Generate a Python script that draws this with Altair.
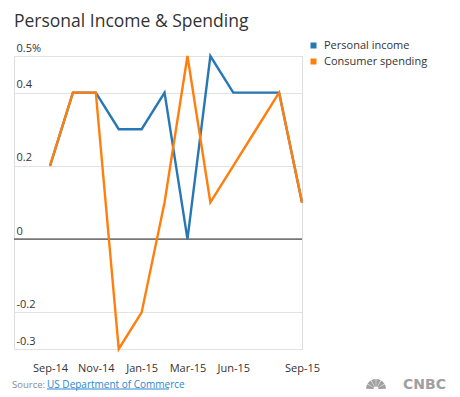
import altair as alt
import pandas as pd

months = ["Sep-14", "Oct-14", "Nov-14", "Dec-14", "Jan-15", "Feb-15", "Mar-15",
          "Apr-15", "Jun-15", "Jul-15", "Aug-15", "Sep-15"]
personal_income = [0.2, 0.4, 0.4, 0.3, 0.3, 0.4, 0.0, 0.5, 0.4, 0.4, 0.4, 0.1]
consumer_spending = [0.2, 0.4, 0.4, -0.3, -0.2, 0.1, 0.5, 0.1, 0.2, 0.3, 0.4, 0.1]
series_names = ["Personal income", "Consumer spending"]
series_colors = ["#2777b4", "#ff7f0e"]
x_tick_labels = ["Sep-14", "Nov-14", "Jan-15", "Mar-15", "Jun-15", "Sep-15"]
y_ticks = [-0.3, -0.2, 0, 0.2, 0.4, 0.5]

rows = []
for name, vals in zip(series_names, [personal_income, consumer_spending]):
    for m, v in zip(months, vals):
        rows.append({"month": m, "value": v, "series": name})
df = pd.DataFrame(rows)

FONT = "Open Sans"
W, H = 288, 293

base = alt.Chart(df)

lines = base.mark_line(strokeWidth=2.4, strokeJoin="miter").encode(
    x=alt.X("month:O", sort=months,
            scale=alt.Scale(type="point", padding=0.786, align=1),
            axis=alt.Axis(values=x_tick_labels, title=None, labelAngle=0, domain=False,
                          ticks=False, tickSize=0, grid=False, labelPadding=13,
                          labelBaseline="top", labelFontSize=11, labelFont=FONT,
                          labelColor="#333333")),
    y=alt.Y("value:Q", scale=alt.Scale(domain=[-0.3, 0.5], nice=False, zero=False),
            axis=alt.Axis(values=y_ticks, title=None, domain=False, ticks=False, tickSize=0,
                          grid=True, gridColor="#e2e2e2", gridWidth=1.2,
                          labelAlign="left", labelPadding=-2, labelBaseline="alphabetic",
                          labelOffset=-5, labelFontSize=11, labelFont=FONT,
                          labelColor="#333333",
                          labelExpr="datum.value == 0.5 ? '0.5%' : '' + datum.value")),
    color=alt.Color("series:N", sort=series_names,
                    scale=alt.Scale(domain=series_names, range=series_colors),
                    legend=alt.Legend(title=None, orient="none", legendX=294, legendY=-16,
                                      symbolType="square", symbolSize=9,
                                      symbolStrokeWidth=3, labelFontSize=11,
                                      labelFont=FONT, labelColor="#333333",
                                      labelOffset=5, rowPadding=1, padding=0)),
    order=alt.Order("series_order:Q"),
).transform_calculate(series_order="datum.series == 'Personal income' ? 0 : 1")

zero_rule = alt.Chart(pd.DataFrame({"z": [0]})).mark_rule(color="#777777", strokeWidth=1.6).encode(
    y=alt.Y("z:Q")
)

one = pd.DataFrame([{"k": 1}])
title_txt = alt.Chart(one).mark_text(align="left", baseline="alphabetic", font=FONT,
                                     fontSize=17.5, color="#333333").encode(
    x=alt.value(0), y=alt.value(-29.3), text=alt.value("Personal Income & Spending"))
source_lbl = alt.Chart(one).mark_text(align="left", baseline="middle", font=FONT,
                                      fontSize=9.5, color="#8a8a8a").encode(
    x=alt.value(-2), y=alt.value(329), text=alt.value("Source:"))
source_link = alt.Chart(one).mark_text(align="left", baseline="middle", font=FONT,
                                       fontSize=10, color="#2a86d1").encode(
    x=alt.value(33), y=alt.value(329), text=alt.value("US Department of Commerce"))
underline = alt.Chart(one).mark_rule(color="#2a86d1", strokeWidth=1).encode(
    x=alt.value(33), x2=alt.value(155), y=alt.value(333))
cnbc = alt.Chart(one).mark_text(align="right", baseline="middle", font="DejaVu Sans",
                                fontWeight="bold", fontSize=14, color="#a0a0a0").encode(
    x=alt.value(432), y=alt.value(328.5), text=alt.value("CNBC"))

feathers = []
for a0, a1 in [(272, 298), (302, 328), (332, 358), (2, 28), (32, 58), (62, 88)]:
    feathers.append(alt.Chart(one).mark_arc(color="#a0a0a0").encode(
        x=alt.value(362), y=alt.value(333),
        theta=alt.value(a0 * 3.14159 / 180), theta2=alt.value(a1 * 3.14159 / 180),
        radius=alt.value(10), radius2=alt.value(2.5)))

chart = alt.layer(zero_rule, lines, title_txt, source_lbl, source_link, underline, cnbc,
                  *feathers).properties(
    width=W, height=H,
    autosize=alt.AutoSizeParams(type="none"),
    padding={"left": 6, "top": 48, "right": 150, "bottom": 44},
).configure_view(stroke=None).configure(background="white")

chart.save("out.html", embed_options={"renderer": "svg", "actions": False})
